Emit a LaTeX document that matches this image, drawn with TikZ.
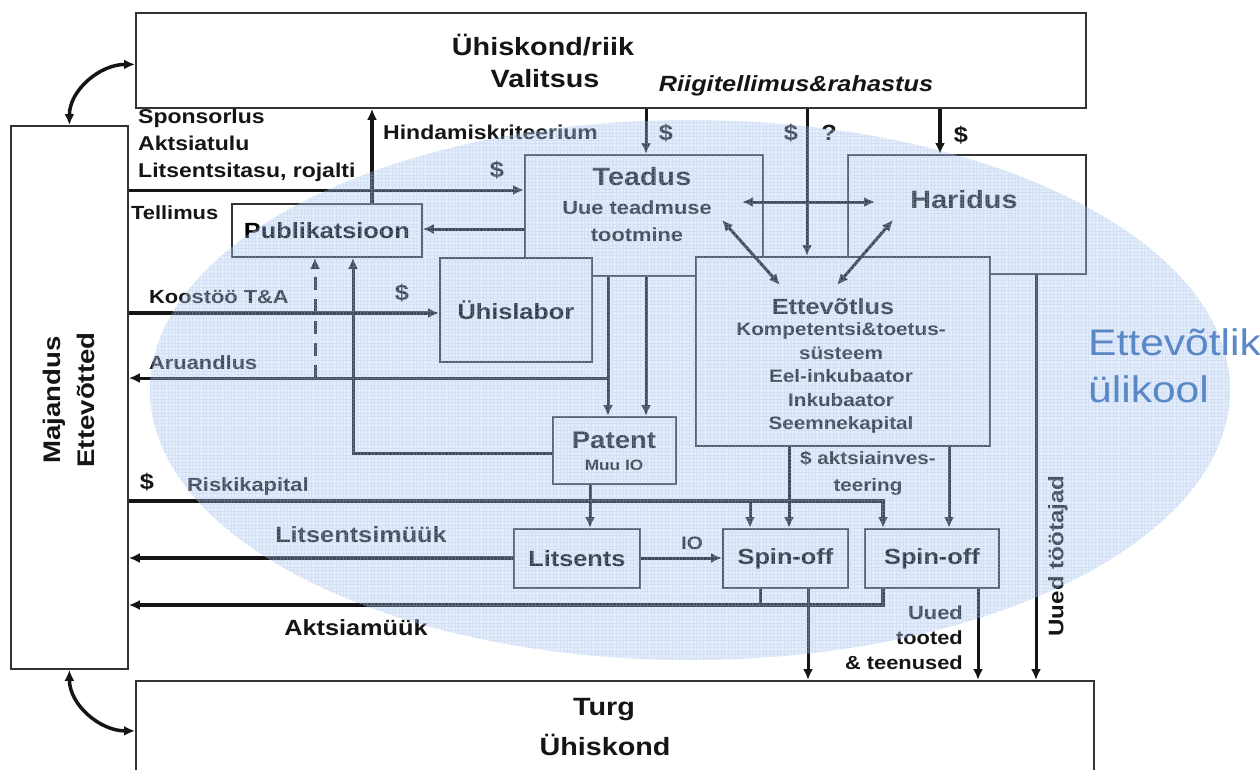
\documentclass[tikz,border=0pt]{standalone}
\usepackage{fontspec}
\setmainfont{Liberation Sans}[FakeStretch=1.15]
\usetikzlibrary{arrows.meta}
\definecolor{ink}{HTML}{151515}
\definecolor{frame}{HTML}{333333}
\definecolor{veil}{HTML}{A4C2EA}
\definecolor{uniblue}{HTML}{5A88C6}
\newcommand\txtsz[2]{\fontsize{#1}{#2}\selectfont\bfseries}

\begin{document}
\begin{tikzpicture}[x=1pt,y=-1pt,
  box/.style={draw=frame, line width=1.8pt, fill=white, inner sep=0pt, anchor=north west},
  lbl/.style={inner sep=0pt, text=ink},
  ln/.style={draw=ink, line width=3pt},
  ar/.style={ln, -{Latex[length=11pt,width=10pt]}},
  dar/.style={ln, {Latex[length=11pt,width=10pt]}-{Latex[length=11pt,width=10pt]}},
  heavy/.style={line width=4.2pt},
]
\useasboundingbox (0,0) rectangle (1260,769);

% ---------- outer boxes ----------
\node[box, minimum width=950pt, minimum height=95pt] (gov) at (135,12) {};
\node[box, minimum width=117pt, minimum height=543pt] (left) at (10,125) {};
\node[box, minimum width=958pt, minimum height=100pt] (market) at (135,680) {};

% ---------- university boxes ----------
\node[box, minimum width=238pt, minimum height=121pt] (teadus) at (524,154) {};
\node[box, minimum width=238pt, minimum height=119pt] (haridus) at (847,154) {};
\node[box, minimum width=294pt, minimum height=189pt] (ettev) at (695,256) {};
\node[box, minimum width=190pt, minimum height=53pt, font=\txtsz{22}{26}] (publ) at (231,203) {Publikatsioon};
\node[box, minimum width=152pt, minimum height=104pt, font=\txtsz{22}{26}] (yhis) at (439,257) {Ühislabor};
\node[box, minimum width=123pt, minimum height=67pt] (patent) at (552,416) {};
\node[box, minimum width=126pt, minimum height=59pt, font=\txtsz{22}{26}] (litsents) at (513,528) {Litsents};
\node[box, minimum width=125pt, minimum height=59pt, font=\txtsz{22}{26}] (spin1) at (722,528) {Spin-off};
\node[box, minimum width=134pt, minimum height=59pt, font=\txtsz{22}{26}] (spin2) at (864,528) {Spin-off};

% ---------- free ends and junctions ----------
\coordinate (tdA) at (742,202);
\coordinate (tdB) at (875,202);
\coordinate (dgA) at (722,220);
\coordinate (dgB) at (780,285);
\coordinate (dhA) at (893,220);
\coordinate (dhB) at (837,285);
\coordinate (aru) at (608,378);
\coordinate (rsk) at (750,501);
\coordinate (akt) at (760,605);

% ---------- connectors ----------
\draw[dar, line width=3.5pt] (left.north) to[out=90,in=180] ([yshift=-4pt]gov.west);
\draw[dar, line width=3.5pt] (left.south) to[out=270,in=180] (market.west);

\draw[ar] (646,0 |- gov.south) -- (646,0 |- teadus.north);
\draw[ar] (807,0 |- gov.south) -- (807,0 |- ettev.north);
\draw[ar, heavy] (940,0 |- gov.south) -- (940,0 |- haridus.north);
\draw[ar, line width=3.5pt] (372,0 |- publ.north) -- (372,0 |- gov.south);

\draw[ar] (left.east |- 0,190) -- (teadus.west |- 0,190);
\draw[ar] (teadus.west |- 0,229) -- (publ.east |- 0,229);
\draw[dar] (tdA) -- (tdB);
\draw[dar] (dgA) -- (dgB);
\draw[dar] (dhA) -- (dhB);

\draw[ar, heavy] (left.east |- 0,313) -- (yhis.west |- 0,313);
\draw[ar] (608,0 |- teadus.south) -- (608,0 |- patent.north);
\draw[ar] (646,0 |- teadus.south) -- (646,0 |- patent.north);
\draw[ar] (aru) -- (left.east |- aru);
\draw[ar, dash pattern=on 13pt off 9pt] (315,0 |- aru) -- (315,0 |- publ.south);
\draw[ar] (patent.west |- 0,453) -| (353,0 |- publ.south);

\draw[ar] (590,0 |- patent.south) -- (590,0 |- litsents.north);
\draw[ar, heavy] (left.east |- rsk) -| (883,0 |- spin2.north);
\draw[ar] (rsk) -- (rsk |- spin1.north);
\draw[ar] (789,0 |- ettev.south) -- (789,0 |- spin1.north);
\draw[ar] (949,0 |- ettev.south) -- (949,0 |- spin2.north);

\draw[ar, heavy] (litsents.west |- 0,558) -- (left.east |- 0,558);
\draw[ar] (litsents.east |- 0,558) -- (spin1.west |- 0,558);

\draw[ar, heavy] (883,0 |- spin2.south) |- (left.east |- akt);
\draw[ln] (akt |- spin1.south) -- (akt);

\draw[ar] (808,0 |- spin1.south) -- (808,0 |- market.north);
\draw[ar] (978,0 |- spin2.south) -- (978,0 |- market.north);
\draw[ar] (1036,0 |- haridus.south) -- (1036,0 |- market.north);

% ---------- texts ----------
\node[lbl, font=\txtsz{25}{29}] (govA) at (543,45) {Ühiskond/riik};
\node[lbl, font=\txtsz{25}{29}] (govB) at (545,79) {Valitsus};
\node[lbl, font=\txtsz{22}{26}\itshape] (riigi) at (796,86) {Riigitellimus\&rahastus};
\node[lbl, font=\txtsz{25}{29}] (turg) at (604,710) {Turg};
\node[lbl, font=\txtsz{25}{29}] (yhisk) at (605,745) {Ühiskond};
\node[lbl, font=\txtsz{24}{34}, rotate=90, align=center] (maj) at (69,400) {Majandus\\Ettevõtted};

\node[lbl, font=\txtsz{20}{27}, align=left, anchor=west] (spons) at (138,145) {Sponsorlus\\Aktsiatulu\\Litsentsitasu, rojalti};
\node[lbl, font=\txtsz{19}{22}, anchor=west] (tell) at (131,213) {Tellimus};
\node[lbl, font=\txtsz{20}{24}, anchor=west] (hind) at (383,132) {Hindamiskriteerium};
\node[lbl, font=\txtsz{22}{26}] (d1) at (497,170) {\$};
\node[lbl, font=\txtsz{22}{26}] (d2) at (666,133) {\$};
\node[lbl, font=\txtsz{22}{26}] (d3) at (791,133) {\$};
\node[lbl, font=\txtsz{22}{26}] (q1) at (829,133) {?};
\node[lbl, font=\txtsz{22}{26}] (d4) at (961,135) {\$};

\node[lbl, font=\txtsz{25}{29}] (teadusT) at (642,177) {Teadus};
\node[lbl, font=\txtsz{19}{27}, align=center] (teadusS) at (637,221) {Uue teadmuse\\tootmine};
\node[lbl, font=\txtsz{25}{29}] (haridusT) at (964,200) {Haridus};
\node[lbl, font=\txtsz{22}{26}] (ettevT) at (833,307) {Ettevõtlus};
\node[lbl, font=\txtsz{18}{23.5}, align=center] (ettevS) at (841,378) {Kompetentsi\&toetus-\\süsteem\\Eel-inkubaator\\Inkubaator\\Seemnekapital};
\node[lbl, font=\txtsz{24}{28}] (patentT) at (614,440) {Patent};
\node[lbl, font=\txtsz{15}{18}] (patentS) at (614,465) {Muu IO};

\node[lbl, font=\txtsz{19}{23}, anchor=west] (koost) at (149,297) {Koostöö T\&A};
\node[lbl, font=\txtsz{22}{26}] (d5) at (402,293) {\$};
\node[lbl, font=\txtsz{19}{23}, anchor=west] (aruT) at (149,363) {Aruandlus};
\node[lbl, font=\txtsz{22}{26}] (d6) at (147,482) {\$};
\node[lbl, font=\txtsz{19}{23}, anchor=west] (riski) at (187,487) {Riskikapital};
\node[lbl, font=\txtsz{22}{26}] (litsm) at (361,535) {Litsentsimüük};
\node[lbl, font=\txtsz{22}{26}] (aktsm) at (356,628) {Aktsiamüük};
\node[lbl, font=\txtsz{18}{22}] (io) at (692,543) {IO};
\node[lbl, font=\txtsz{18}{27}, align=center] (aktinv) at (868,473) {\$ aktsiainves-\\teering};
\node[lbl, font=\txtsz{19}{25}, align=right, anchor=east] (uuedT) at (963,638) {Uued\\tooted\\\& teenused};
\node[lbl, font=\txtsz{21}{25}, rotate=90] (uuedW) at (1058,556) {Uued töötajad};

% ---------- entrepreneurial university veil ----------
\begin{scope}
  \clip (690,390) ellipse [x radius=540, y radius=270];
  \fill[veil, opacity=0.3] (140,110) rectangle (1240,670);
  \draw[veil, opacity=0.28, line width=0.9pt] (140pt,-670pt) grid[step=3.5pt] (1240pt,-110pt);
\end{scope}
\node[inner sep=0pt, anchor=base west, text=uniblue, font=\fontsize{37}{40}\selectfont] (evA) at (1088,355) {Ettevõtlik};
\node[inner sep=0pt, anchor=base west, text=uniblue, font=\fontsize{37}{40}\selectfont] (evB) at (1088,402) {ülikool};
\end{tikzpicture}
\end{document}
